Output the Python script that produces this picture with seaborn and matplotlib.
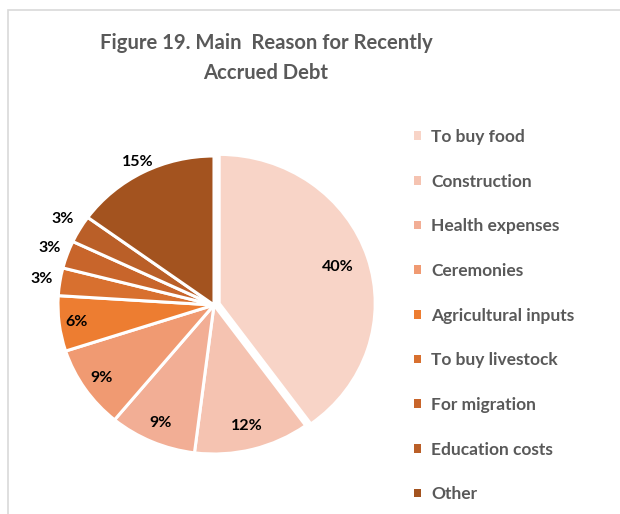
import matplotlib
matplotlib.use("Agg")
import matplotlib.pyplot as plt
from matplotlib.patches import Rectangle
import numpy as np
import seaborn as sns

# Reasons for recently accrued debt and their shares (%)
reasons = [
    "To buy food",
    "Construction",
    "Health expenses",
    "Ceremonies",
    "Agricultural inputs",
    "To buy livestock",
    "For migration",
    "Education costs",
    "Other",
]
shares = [40, 12, 9, 9, 6, 3, 3, 3, 15]
share_labels = ["40%", "12%", "9%", "9%", "6%", "3%", "3%", "3%", "15%"]

slice_colors = [
    "#F8D4C7", "#F5C3B1", "#F2AE95", "#F09A72", "#ED7D31",
    "#D8702F", "#C8652B", "#BA5F28", "#A3531F",
]
# radial position of each percentage label (fraction of radius)
label_radius = [0.80, 0.84, 0.86, 0.87, 0.89, 1.12, 1.12, 1.13, 1.08]

sns.set_theme(style="white")
plt.rcParams["font.family"] = ["Lato", "DejaVu Sans"]

W, H = 620, 514
fig = plt.figure(figsize=(W / 100, H / 100), dpi=100)
fig.patch.set_facecolor("white")

# chart frame
fig.add_artist(Rectangle((8 / W, -0.1), 1.2, 1 - 10 / H + 0.1,
                         transform=fig.transFigure, fill=False,
                         edgecolor="#D9D9D9", linewidth=1.2))

# pie axes: centre and radius in pixels
cx, cy, rx, ry = 214, 305, 156, 149
lim = 1.3
ax = fig.add_axes([(cx - lim * rx) / W, (H - cy - lim * ry) / H,
                   2 * lim * rx / W, 2 * lim * ry / H])

explode = [0.035] + [0] * (len(shares) - 1)
wedges, _ = ax.pie(
    shares,
    colors=slice_colors,
    startangle=90,
    counterclock=False,
    explode=explode,
    wedgeprops=dict(edgecolor="white", linewidth=2.2),
)
ax.set_aspect("auto")
ax.set_xlim(-lim, lim)
ax.set_ylim(-lim, lim)
ax.axis("off")

for w, txt, r, ex in zip(wedges, share_labels, label_radius, explode):
    ang = np.deg2rad((w.theta1 + w.theta2) / 2)
    d = r + ex
    ax.text(d * np.cos(ang), d * np.sin(ang), txt, ha="center", va="center",
            fontsize=11.5, fontweight="bold", color="black")

title_kw = dict(ha="center", va="baseline", fontsize=14.6,
                fontweight="bold", color="#595959")
fig.text(266 / W, 1 - 49 / H, "Figure 19. Main  Reason for Recently", **title_kw)
fig.text(266 / W, 1 - 79 / H, "Accrued Debt", **title_kw)

leg = fig.legend(
    wedges, reasons,
    loc="upper left",
    bbox_to_anchor=(414 / W, 1 - 129 / H),
    frameon=False,
    fontsize=12.5,
    handlelength=0.4,
    handleheight=0.4,
    handletextpad=0.58,
    labelspacing=1.65,
    borderaxespad=0,
    borderpad=0,
)
for t in leg.get_texts():
    t.set_color("#595959")
    t.set_fontweight("bold")
for h in leg.legend_handles:
    h.set_linewidth(0)

fig.savefig("out.png", dpi=100, facecolor="white")
